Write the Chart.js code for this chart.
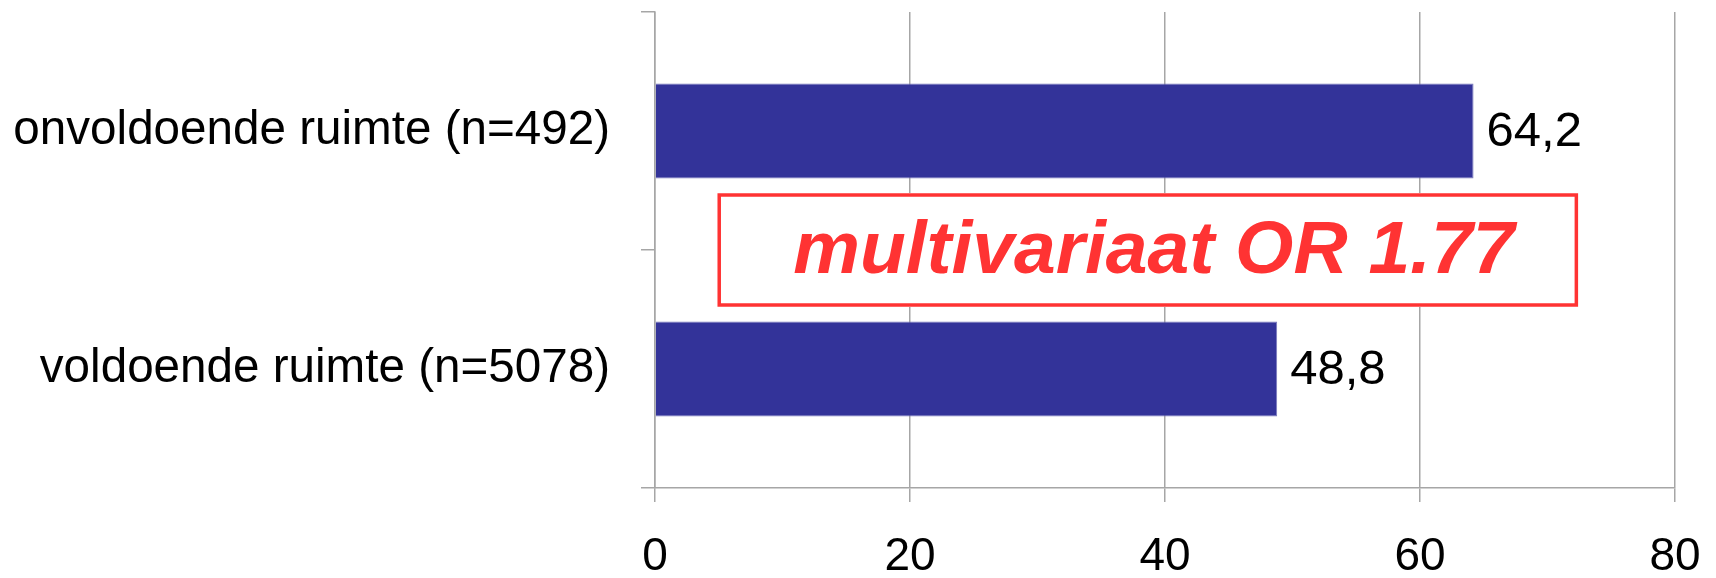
<!DOCTYPE html>
<html>
<head>
<meta charset="utf-8">
<script src="https://cdn.jsdelivr.net/npm/chart.js@4/dist/chart.umd.min.js"></script>
<style>
  html, body { margin: 0; padding: 0; background: #fff; }
  #wrap { width: 1716px; height: 578px; }
</style>
</head>
<body>
<div id="wrap"><canvas id="myChart" width="1716" height="578"></canvas></div>
<script>
var categorieen = ['onvoldoende ruimte (n=492)', 'voldoende ruimte (n=5078)'];
var waarden = [64.2, 48.8];
var xTicks = [0, 20, 40, 60, 80];
var notitie = 'multivariaat OR 1.77';

// waarden naast de balken, met komma
var labelsPlugin = {
    id: 'labels',
    afterDatasetsDraw: function (chart) {
        var ctx = chart.ctx;
        var meta = chart.getDatasetMeta(0);
        ctx.save();
        ctx.fillStyle = '#000';
        ctx.font = '49px "Liberation Sans", Arial, sans-serif';
        ctx.textAlign = 'left';
        ctx.textBaseline = 'middle';
        meta.data.forEach(function (bar, i) {
            ctx.fillText(String(waarden[i]).replace('.', ','), bar.x + 13, bar.y + 1);
        });
        ctx.restore();
    }
};

// rood kader met tekst tussen de balken
var kaderPlugin = {
    id: 'kader',
    afterDraw: function (chart) {
        var ctx = chart.ctx;
        var x = chart.scales.x, y = chart.scales.y;
        var x1 = x.getPixelForValue(4.9), x2 = x.getPixelForValue(72.4);
        var yc = y.getPixelForValue(0.5);
        ctx.save();
        ctx.fillStyle = '#fff';
        ctx.fillRect(x1, yc - 57, x2 - x1, 114);
        ctx.strokeStyle = '#ff3333';
        ctx.lineWidth = 3.5;
        ctx.strokeRect(x1 + 1.75, yc - 55, x2 - x1 - 3.5, 110);
        ctx.fillStyle = '#ff3333';
        ctx.font = 'italic bold 75px "Liberation Sans", Arial, sans-serif';
        ctx.textAlign = 'center';
        ctx.textBaseline = 'middle';
        ctx.fillText(notitie, (x1 + x2) / 2 + 6, yc + 2);
        ctx.restore();
    }
};

var ctx = document.getElementById('myChart').getContext('2d');
var chart = new Chart(ctx, {
    type: 'bar',
    data: {
        labels: categorieen,
        datasets: [{
            data: waarden,
            backgroundColor: '#333399',
            borderColor: '#7777bb',
            borderWidth: 1,
            barPercentage: 0.4,
            categoryPercentage: 1
        }]
    },
    options: {
        indexAxis: 'y',
        responsive: false,
        animation: false,
        layout: { padding: { top: 12, right: 41, left: 0, bottom: 0 } },
        plugins: { legend: { display: false }, tooltip: { enabled: false } },
        scales: {
            x: {
                min: 0,
                max: 80,
                afterBuildTicks: function (scale) {
                    scale.ticks = xTicks.map(function (v) { return { value: v }; });
                },
                afterFit: function (scale) {
                    scale.height = 90;
                    scale.paddingLeft = 0;
                    scale.paddingRight = 0;
                },
                grid: {
                    color: '#a6a6a6',
                    lineWidth: 1.5,
                    tickLength: 14,
                    drawTicks: true
                },
                border: { display: true, color: '#a6a6a6', width: 1.5 },
                ticks: {
                    color: '#000',
                    padding: 28,
                    maxRotation: 0,
                    font: { family: '"Liberation Sans", Arial, sans-serif', size: 46 }
                }
            },
            y: {
                offset: true,
                afterFit: function (scale) {
                    scale.width = 655;
                    scale.paddingTop = 0;
                    scale.paddingBottom = 0;
                },
                grid: {
                    offset: true,
                    drawOnChartArea: false,
                    drawTicks: true,
                    tickLength: 14,
                    color: '#a6a6a6',
                    lineWidth: 1.5
                },
                border: { display: true, color: '#a6a6a6', width: 1.5 },
                ticks: {
                    color: '#000',
                    padding: 31,
                    font: { family: '"Liberation Sans", Arial, sans-serif', size: 47.6 }
                }
            }
        }
    },
    plugins: [labelsPlugin, kaderPlugin]
});
</script>
</body>
</html>
